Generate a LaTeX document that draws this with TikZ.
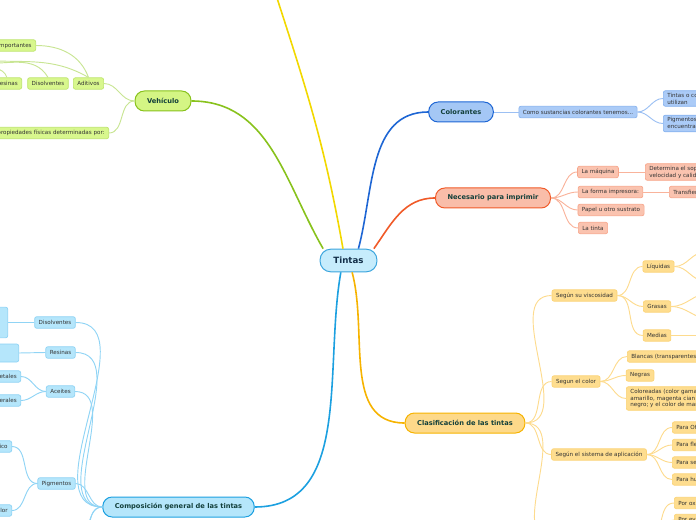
\documentclass[tikz,border=0pt]{standalone}
\usepackage{fontspec}
\setmainfont{DejaVu Sans}
\definecolor{cTintasF}{HTML}{C6ECFC}
\definecolor{cTintasB}{HTML}{3BA5DD}
\definecolor{cAzulF}{HTML}{A4C7F5}
\definecolor{cAzulB}{HTML}{1E66D4}
\definecolor{cAzulHF}{HTML}{ABCBF7}
\definecolor{cAzulHB}{HTML}{86B2EE}
\definecolor{cAzulL}{HTML}{9CC0F3}
\definecolor{cRojoF}{HTML}{F9BDA9}
\definecolor{cRojoB}{HTML}{F05A28}
\definecolor{cRojoHF}{HTML}{FAC3AF}
\definecolor{cRojoHB}{HTML}{F7A58A}
\definecolor{cRojoL}{HTML}{F9B39B}
\definecolor{cOroF}{HTML}{FDD98A}
\definecolor{cOroB}{HTML}{F6B300}
\definecolor{cOroHF}{HTML}{FEDD8F}
\definecolor{cOroHB}{HTML}{FBD375}
\definecolor{cOroL}{HTML}{FDDB8E}
\definecolor{cCelF}{HTML}{B5E6FB}
\definecolor{cCelB}{HTML}{1CA0E0}
\definecolor{cCelHB}{HTML}{8CD2F4}
\definecolor{cCelL}{HTML}{90D4F5}
\definecolor{cVerdeF}{HTML}{D4F584}
\definecolor{cVerdeB}{HTML}{88C21C}
\definecolor{cVerdeHF}{HTML}{D8F78D}
\definecolor{cVerdeHB}{HTML}{BDE46A}
\definecolor{cVerdeL}{HTML}{C8E593}
\definecolor{cAmar}{HTML}{F2D800}
\definecolor{textoTema}{HTML}{123F3A}
\definecolor{textoRaiz}{HTML}{14304A}
\definecolor{textoHoja}{HTML}{333333}
\tikzset{
  raiz/.style={draw=cTintasB, fill=cTintasF, line width=0.75pt, rounded corners=8pt,
    font=\fontsize{6.5}{7.5}\selectfont\bfseries, text=textoRaiz, inner xsep=10pt, minimum height=17pt},
  tema/.style={draw, line width=0.75pt, rounded corners=7pt,
    font=\fontsize{5}{6}\selectfont\bfseries, text=textoTema, inner xsep=9pt, minimum height=15pt},
  hoja/.style={draw, line width=0.5pt, rounded corners=1.5pt, align=left,
    font=\fontsize{4.2}{5.2}\selectfont, text=textoHoja, inner xsep=3pt, inner ysep=1.6pt, minimum height=8.6pt},
  rama/.style={line width=1.2pt},
  liga/.style={line width=0.7pt},
}
\begin{document}
\begin{tikzpicture}[x=0.75pt,y=0.75pt]
\useasboundingbox (0,0) rectangle (696,-520);
\clip (0,0) rectangle (696,-520);

\node[raiz] (tintas) at (348.5,-260.5) {Tintas};

% Colorantes
\node[tema, fill=cAzulF, draw=cAzulB] (colorantes) at (461,-112) {Colorantes};
\node[hoja, fill=cAzulHF, draw=cAzulHB] (como) at (578,-112) {Como sustancias colorantes tenemos...};
\node[hoja, fill=cAzulHF, draw=cAzulHB, anchor=west] (tintasco) at (663,-98.5) {Tintas o colorantes que se\\utilizan};
\node[hoja, fill=cAzulHF, draw=cAzulHB, anchor=west] (pigcol) at (663,-123.5) {Pigmentos que se\\encuentran dispersos};
\draw[rama, cAzulB] (tintas.50) to[out=75,in=180] (colorantes.west);
\draw[liga, cAzulL] (colorantes.east) -- (como.west);
\draw[liga, cAzulL] (como.east) to[out=0,in=180] (tintasco.west);
\draw[liga, cAzulL] (como.east) to[out=0,in=180] (pigcol.west);

% Necesario para imprimir
\node[tema, fill=cRojoF, draw=cRojoB] (necesario) at (493,-198) {Necesario para imprimir};
\node[hoja, fill=cRojoHF, draw=cRojoHB] (maquina) at (598,-172) {La máquina};
\node[hoja, fill=cRojoHF, draw=cRojoHB] (forma) at (610.5,-192) {La forma impresora:};
\node[hoja, fill=cRojoHF, draw=cRojoHB] (papel) at (611,-210) {Papel u otro sustrato};
\node[hoja, fill=cRojoHF, draw=cRojoHB] (latinta) at (593,-228) {La tinta};
\node[hoja, fill=cRojoHF, draw=cRojoHB, anchor=west] (determina) at (645,-172) {Determina el soporte,\\velocidad y calidad};
\node[hoja, fill=cRojoHF, draw=cRojoHB, anchor=west] (transfiere) at (669,-192) {Transfiere la tinta};
\draw[rama, cRojoB] (tintas.25) to[out=55,in=180] (necesario.west);
\foreach \h in {maquina,forma,papel,latinta}
  \draw[liga, cRojoL] (necesario.east) to[out=0,in=180] (\h.west);
\draw[liga, cRojoL] (maquina.east) -- (determina.west);
\draw[liga, cRojoL] (forma.east) -- (transfiere.west);

% Clasificacion
\node[tema, fill=cOroF, draw=cOroB] (clasif) at (465,-423) {Clasificación de las tintas};
\node[hoja, fill=cOroHF, draw=cOroHB] (visc) at (584.5,-295.5) {Según su viscosidad};
\node[hoja, fill=cOroHF, draw=cOroHB] (liquidas) at (658.5,-266.5) {Líquidas};
\node[hoja, fill=cOroHF, draw=cOroHB] (grasas) at (657,-306.5) {Grasas};
\node[hoja, fill=cOroHF, draw=cOroHB] (medias) at (657,-335.5) {Medias};
\node[hoja, fill=cOroHF, draw=cOroHB] (color) at (576,-381.5) {Segun el color};
\node[hoja, fill=cOroHF, draw=cOroHB, anchor=west] (blancas) at (627,-356.5) {Blancas (transparentes)};
\node[hoja, fill=cOroHF, draw=cOroHB] (negras) at (640,-375.5) {Negras};
\node[hoja, fill=cOroHF, draw=cOroHB, anchor=west] (coloreadas) at (626,-398.5) {Coloreadas (color gama:\\amarillo, magenta cian y\\negro; y el color de marca)};
\node[hoja, fill=cOroHF, draw=cOroHB] (sistema) at (599,-454.5) {Según el sistema de aplicación};
\node[hoja, fill=cOroHF, draw=cOroHB, anchor=west] (offset) at (672,-427.5) {Para Offset};
\node[hoja, fill=cOroHF, draw=cOroHB, anchor=west] (flexo) at (672,-445) {Para flexografía};
\node[hoja, fill=cOroHF, draw=cOroHB, anchor=west] (seri) at (672,-462.5) {Para serigrafía};
\node[hoja, fill=cOroHF, draw=cOroHB, anchor=west] (hueco) at (672,-479.5) {Para huecograbado};
\node[hoja, fill=cOroHF, draw=cOroHB, anchor=west] (porox) at (674,-503) {Por oxidación};
\node[hoja, fill=cOroHF, draw=cOroHB, anchor=west] (porev) at (674,-520) {Por evaporación};
\coordinate (secadoW) at (552,-540);
\coordinate (secadoE) at (648,-540);
\coordinate (liqA) at (705,-252);
\coordinate (liqB) at (705,-281);
\coordinate (grasA) at (710,-293);
\coordinate (grasB) at (710,-319);
\coordinate (mediasE) at (700,-335.5);
\draw[rama, cOroB] (tintas.-73) to[out=-75,in=180] (clasif.west);
\foreach \h in {visc,color,sistema}
  \draw[liga, cOroL] (clasif.east) to[out=0,in=180] (\h.west);
\draw[liga, cOroL] (clasif.east) to[out=0,in=180] (secadoW);
\foreach \h in {liquidas,grasas,medias}
  \draw[liga, cOroL] (visc.east) to[out=0,in=180] (\h.west);
\draw[liga, cOroL] (liquidas.east) to[out=0,in=180] (liqA);
\draw[liga, cOroL] (liquidas.east) to[out=0,in=180] (liqB);
\draw[liga, cOroL] (grasas.east) to[out=0,in=180] (grasA);
\draw[liga, cOroL] (grasas.east) to[out=0,in=180] (grasB);
\draw[liga, cOroL] (medias.east) -- (mediasE);
\foreach \h in {blancas,negras,coloreadas}
  \draw[liga, cOroL] (color.east) to[out=0,in=180] (\h.west);
\foreach \h in {offset,flexo,seri,hueco}
  \draw[liga, cOroL] (sistema.east) to[out=0,in=180] (\h.west);
\draw[liga, cOroL] (secadoE) to[out=0,in=180] (porox.west);
\draw[liga, cOroL] (secadoE) to[out=0,in=180] (porev.west);

% Composicion general
\node[tema, fill=cCelF, draw=cCelB] (composicion) at (178.5,-507) {Composición general de las tintas};
\node[hoja, fill=cCelF, draw=cCelHB] (disolv) at (55,-322.5) {Disolventes};
\node[hoja, fill=cCelF, draw=cCelHB, anchor=east, text width=60pt, minimum height=23pt] (disolvH) at (8,-322.5) {Dan fluidez a\\la tinta y\\la secan};
\node[hoja, fill=cCelF, draw=cCelHB, anchor=east, text width=60pt, minimum height=13.5pt] (resinasH) at (19,-353) {Fijan el\\pigmento};
\node[hoja, fill=cCelF, draw=cCelHB] (resinas) at (60.5,-352.5) {Resinas};
\node[hoja, fill=cCelF, draw=cCelHB] (aceites) at (60.5,-391.5) {Aceites};
\node[hoja, fill=cCelF, draw=cCelHB, anchor=east] (vegetales) at (21,-376.5) {Vegetales};
\node[hoja, fill=cCelF, draw=cCelHB, anchor=east] (minerales) at (21,-400.5) {Minerales};
\node[hoja, fill=cCelF, draw=cCelHB] (pigm) at (56.5,-483.5) {Pigmentos};
\node[hoja, fill=cCelF, draw=cCelHB, anchor=east] (organico) at (12,-446.5) {Orgánico};
\node[hoja, fill=cCelF, draw=cCelHB, anchor=east] (dancolor) at (12,-510.5) {Dan color};
\coordinate (compA) at (75,-540);
\coordinate (compB) at (75,-556);
\draw[rama, cCelB] (tintas.-123) to[out=-100,in=0] (composicion.east);
\foreach \h in {disolv,resinas,aceites,pigm}
  \draw[liga, cCelL] (composicion.west) to[out=180,in=0] (\h.east);
\draw[liga, cCelL] (composicion.west) to[out=180,in=0] (compA);
\draw[liga, cCelL] (composicion.west) to[out=180,in=0] (compB);
\draw[liga, cCelL] (disolv.west) -- (disolvH.east);
\draw[liga, cCelL] (resinas.west) -- (resinasH.east);
\draw[liga, cCelL] (aceites.west) to[out=180,in=0] (vegetales.east);
\draw[liga, cCelL] (aceites.west) to[out=180,in=0] (minerales.east);
\draw[liga, cCelL] (pigm.west) to[out=180,in=0] (organico.east);
\draw[liga, cCelL] (pigm.west) to[out=180,in=0] (dancolor.east);

% Vehiculo
\node[tema, fill=cVerdeF, draw=cVerdeB] (vehiculo) at (163,-101) {Vehículo};
\node[hoja, fill=cVerdeHF, draw=cVerdeHB, anchor=east] (importantes) at (36,-45.5) {Componentes importantes};
\node[hoja, fill=cVerdeHF, draw=cVerdeHB, anchor=east] (resinasV) at (22,-83.5) {Resinas};
\node[hoja, fill=cVerdeHF, draw=cVerdeHB] (disolvV) at (48,-83.5) {Disolventes};
\node[hoja, fill=cVerdeHF, draw=cVerdeHB] (aditivos) at (88.5,-83.5) {Aditivos};
\node[hoja, fill=cVerdeHF, draw=cVerdeHB, anchor=east] (propfis) at (109,-133) {Con propiedades físicas determinadas por:};
\coordinate (vA) at (-20,-60);
\coordinate (vB) at (-20,-63);
\coordinate (vC) at (-20,-66);
\draw[rama, cVerdeB] (tintas.155) to[out=120,in=0] (vehiculo.east);
\draw[liga, cVerdeL] (vehiculo.west) to[out=180,in=0] (aditivos.east);
\draw[liga, cVerdeL] (vehiculo.west) to[out=180,in=0] (propfis.east);
\draw[liga, cVerdeL] (importantes.east) to[out=0,in=110] (aditivos.north);
\draw[liga, cVerdeL] (vA) to[out=-5,in=150] (aditivos.north);
\draw[liga, cVerdeL] (vB) to[out=-5,in=120] (disolvV.north);
\draw[liga, cVerdeL] (vC) to[out=-10,in=110] (resinasV.north);

% rama amarilla
\coordinate (arriba) at (276,5);
\draw[rama, cAmar] (tintas.115) to[out=100,in=-72] (arriba);
\end{tikzpicture}
\end{document}
